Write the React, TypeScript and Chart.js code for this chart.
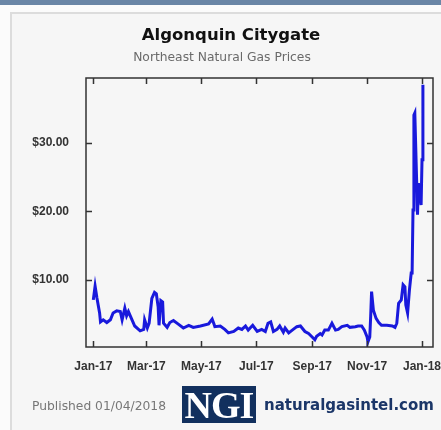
import React, { useEffect, useRef } from "react";
import { Chart, registerables } from "chart.js";

Chart.register(...registerables);

// Days since 2017-01-01
const days = [
  0, 2, 4, 7, 8, 11, 15, 19, 22, 26, 30, 32, 35, 37, 39, 43, 46, 52, 56, 57,
  60, 62, 65, 68, 70, 72, 73, 75, 77, 78, 82, 85, 89, 94, 100, 106, 111, 119,
  128, 132, 134, 135, 141, 146, 150, 156, 161, 165, 169, 172, 177, 182, 187,
  191, 194, 197, 200, 204, 207, 211, 213, 217, 222, 226, 230, 235, 239, 243,
  246, 248, 252, 254, 257, 261, 265, 269, 272, 276, 282, 285, 291, 294, 298,
  301, 304, 305, 307, 308, 309, 311, 314, 317, 320, 326, 332, 335, 337, 339,
  342, 344, 346, 347, 349, 351, 353, 354, 355, 356, 357, 359, 360, 361, 362,
  364, 365, 366,
];

// Price ($/MMBtu)
const prices = [
  7.1, 9.1, 7.4, 5.2, 3.9, 4.2, 3.8, 4.2, 5.2, 5.5, 5.4, 4.2, 5.9, 4.8, 5.4,
  4.2, 3.3, 2.6, 2.8, 4.2, 3.0, 3.7, 7.3, 8.2, 8.0, 6.1, 3.4, 7.0, 6.8, 3.7,
  3.1, 3.8, 4.1, 3.6, 3.0, 3.4, 3.1, 3.3, 3.6, 4.3, 3.6, 3.2, 3.3, 2.8, 2.3,
  2.5, 3.0, 2.8, 3.3, 2.7, 3.4, 2.5, 2.8, 2.5, 3.7, 3.9, 2.5, 2.8, 3.3, 2.4,
  3.0, 2.3, 2.8, 3.2, 3.3, 2.5, 2.2, 1.7, 1.3, 1.8, 2.2, 2.0, 2.7, 2.7, 3.7,
  2.7, 2.8, 3.2, 3.4, 3.1, 3.2, 3.3, 3.3, 2.7, 1.7, 1.0, 1.7, 4.7, 8.3, 5.6,
  4.4, 3.8, 3.4, 3.4, 3.3, 3.1, 3.7, 6.6, 7.1, 9.3, 9.0, 6.4, 5.2, 8.5, 11.0,
  11.0, 20.2, 34.0, 34.3, 24.6, 19.5, 24.1, 23.1, 20.9, 27.5, 38.4,
];

const tickDates = [
  "2017-01-01", "2017-03-01", "2017-05-01", "2017-07-01",
  "2017-09-01", "2017-11-01", "2018-01-01",
];
const tickLabels = ["Jan-17", "Mar-17", "May-17", "Jul-17", "Sep-17", "Nov-17", "Jan-18"];
const yTickValues = [10, 20, 30];

const DAY_MS = 86400000;
const base = Date.parse("2017-01-01T00:00:00Z");
const tickDays = tickDates.map((d) => Math.round((Date.parse(d + "T00:00:00Z") - base) / DAY_MS));

const framePlugin = {
  id: "frameTicks",
  afterDatasetsDraw(chart: any) {
    const { ctx, chartArea: a, scales } = chart;
    ctx.save();
    ctx.strokeStyle = "#333";
    ctx.lineWidth = 1.5;
    ctx.strokeRect(a.left, a.top, a.right - a.left, a.bottom - a.top);
    const L = 6;
    ctx.beginPath();
    scales.x.ticks.forEach((t: any) => {
      const x = Math.round(scales.x.getPixelForValue(t.value)) + 0.5;
      ctx.moveTo(x, a.bottom);
      ctx.lineTo(x, a.bottom - L);
      ctx.moveTo(x, a.top);
      ctx.lineTo(x, a.top + L);
    });
    scales.y.ticks.forEach((t: any) => {
      const y = Math.round(scales.y.getPixelForValue(t.value)) + 0.5;
      ctx.moveTo(a.left, y);
      ctx.lineTo(a.left + L, y);
      ctx.moveTo(a.right, y);
      ctx.lineTo(a.right - L, y);
    });
    ctx.stroke();
    ctx.restore();
  },
};

export default function App() {
  const ref = useRef<HTMLCanvasElement>(null);

  useEffect(() => {
    const Y_W = 60;
    const X_H = 30;
    const chart = new Chart(ref.current!, {
      type: "line",
      data: {
        datasets: [
          {
            data: days.map((d, i) => ({ x: d, y: prices[i] })),
            borderColor: "rgb(25,25,220)",
            borderWidth: 3,
            pointRadius: 0,
            tension: 0,
            fill: false,
          },
        ],
      },
      options: {
        animation: false,
        responsive: false,
        devicePixelRatio: 1,
        layout: {
          padding: { left: 86 - Y_W, top: 78, right: 441 - 433, bottom: 430 - 347 - X_H },
        },
        plugins: { legend: { display: false }, tooltip: { enabled: false }, title: { display: false } },
        scales: {
          x: {
            type: "linear",
            min: -8.1,
            max: 377.2,
            afterBuildTicks: (s: any) => {
              s.ticks = tickDays.map((v) => ({ value: v }));
            },
            afterFit: (s: any) => {
              s.height = X_H;
              s.paddingLeft = 0;
              s.paddingRight = 0;
            },
            grid: { display: false, drawTicks: false },
            border: { display: false },
            ticks: {
              autoSkip: false,
              maxRotation: 0,
              padding: 12,
              color: "#333",
              font: { family: "Arial, 'Liberation Sans'", size: 12, weight: "bold" },
              callback: (v: any) => {
                const i = tickDays.indexOf(Number(v));
                return i >= 0 ? tickLabels[i] : "";
              },
            },
          },
          y: {
            min: 0.24,
            max: 39.4,
            afterBuildTicks: (s: any) => {
              s.ticks = yTickValues.map((v) => ({ value: v }));
            },
            afterFit: (s: any) => {
              s.width = Y_W;
              s.paddingTop = 0;
              s.paddingBottom = 0;
            },
            grid: { display: false, drawTicks: false },
            border: { display: false },
            ticks: {
              padding: 17,
              color: "#333",
              font: { family: "Arial, 'Liberation Sans'", size: 12, weight: "bold" },
              callback: (v: any) => "$" + Number(v).toFixed(2),
            },
          },
        },
      },
      plugins: [framePlugin],
    });
    return () => chart.destroy();
  }, []);

  return (
    <div
      style={{
        position: "fixed",
        left: 0,
        top: 0,
        width: 441,
        height: 430,
        background: "#fbfbfb",
        overflow: "hidden",
      }}
    >
      <div style={{ position: "absolute", left: 0, top: 0, width: 441, height: 5, background: "#6a86a6" }} />
      <div
        style={{
          position: "absolute",
          left: 10,
          top: 12,
          width: 440,
          height: 430,
          background: "#f6f6f6",
          borderLeft: "2px solid #dcdcdc",
          borderTop: "2px solid #dcdcdc",
        }}
      />
      <canvas ref={ref} width={441} height={430} style={{ position: "absolute", left: 0, top: 0 }} />
      <div
        style={{
          position: "absolute",
          left: 0,
          width: 462,
          top: 25,
          textAlign: "center",
          fontFamily: "'DejaVu Sans'",
          fontWeight: "bold",
          fontSize: 16.5,
          color: "#111",
          lineHeight: "20px",
        }}
      >
        Algonquin Citygate
      </div>
      <div
        style={{
          position: "absolute",
          left: 0,
          width: 444,
          top: 49,
          textAlign: "center",
          fontFamily: "'DejaVu Sans'",
          fontSize: 12.3,
          color: "#6a6a6a",
          lineHeight: "16px",
        }}
      >
        Northeast Natural Gas Prices
      </div>
      <div
        style={{
          position: "absolute",
          left: 32,
          top: 398,
          fontFamily: "'DejaVu Sans'",
          fontSize: 12.3,
          color: "#777",
          lineHeight: "16px",
          whiteSpace: "nowrap",
        }}
      >
        Published 01/04/2018
      </div>
      <div
        style={{
          position: "absolute",
          left: 182,
          top: 386,
          width: 74,
          height: 37,
          background: "#12305e",
          color: "#fff",
          fontFamily: "'Liberation Serif', 'DejaVu Serif', serif",
          fontWeight: "bold",
          fontSize: 38,
          lineHeight: "39px",
          textAlign: "center",
          letterSpacing: -1,
          overflow: "hidden",
        }}
      >
        NGI
      </div>
      <div
        style={{
          position: "absolute",
          left: 264,
          top: 395,
          fontFamily: "'DejaVu Sans'",
          fontWeight: "bold",
          fontSize: 15,
          color: "#1b3668",
          lineHeight: "20px",
          whiteSpace: "nowrap",
        }}
      >
        naturalgasintel.com
      </div>
    </div>
  );
}
